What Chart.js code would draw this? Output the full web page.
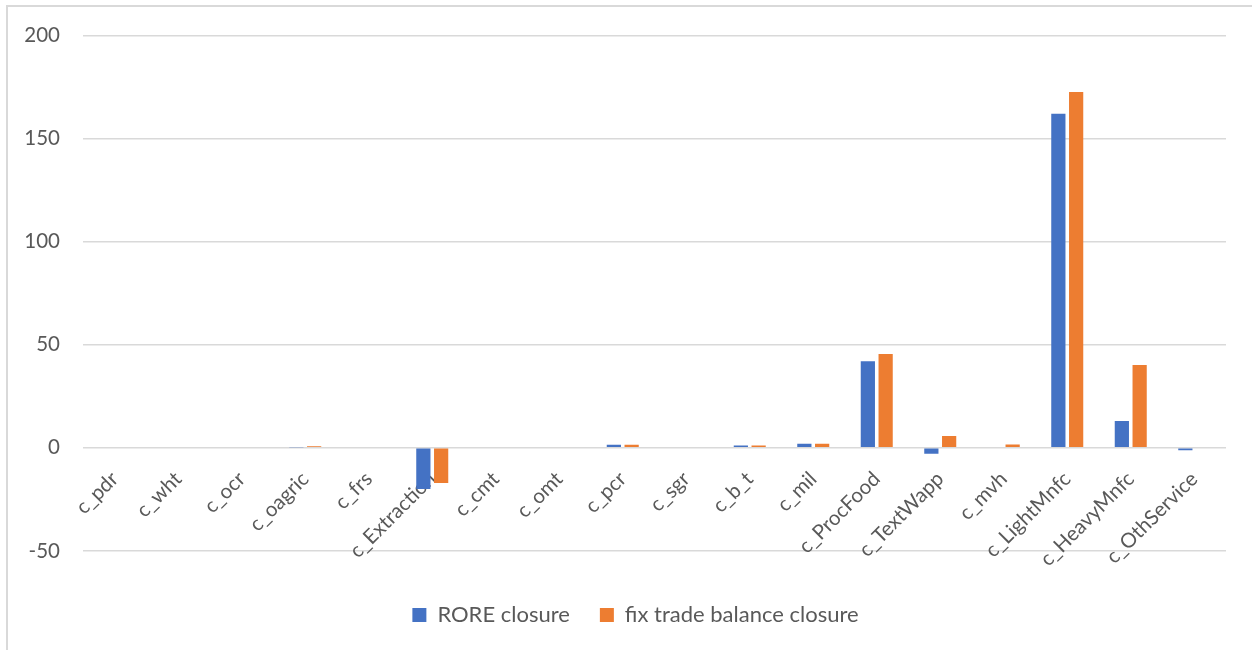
<!DOCTYPE html>
<html>
<head>
<meta charset="utf-8">
<script src="https://cdn.jsdelivr.net/npm/chart.js@4.4.1/dist/chart.umd.min.js"></script>
<style>
  html, body { margin: 0; padding: 0; background: #fff; }
  #wrap { position: relative; width: 1252px; height: 650px; }
  #frame {
    position: absolute; left: 6px; top: 5px; right: -10px; bottom: -10px;
    border-left: 2px solid #d9d9d9; border-top: 2px solid #d9d9d9;
    pointer-events: none;
  }
</style>
</head>
<body>
<div id="wrap">
  <canvas id="chart" width="1252" height="650"></canvas>
  <div id="frame"></div>
</div>
<script>
// Data
const categories = ['c_pdr', 'c_wht', 'c_ocr', 'c_oagric', 'c_frs', 'c_Extraction', 'c_cmt', 'c_omt', 'c_pcr',
  'c_sgr', 'c_b_t', 'c_mil', 'c_ProcFood', 'c_TextWapp', 'c_mvh', 'c_LightMnfc', 'c_HeavyMnfc', 'c_OthService'];
const roreClosure = [0, 0, 0, 0.3, 0, -20, 0, 0, 1.5, 0, 1.1, 2.0, 42, -2.9, 0, 162, 13, -1.2];
const fixTradeClosure = [0, 0, 0, 0.8, 0, -17, 0, 0, 1.5, 0, 1.1, 2.0, 45.5, 5.7, 1.6, 172.5, 40.2, 0];
const yTicks = [-50, 0, 50, 100, 150, 200];

const textColor = '#595959';
const gridColor = '#d9d9d9';

// legend sits a bit right of centre in the original
const legendShift = {
  id: 'legendShift',
  afterLayout(chart) {
    if (chart.legend) chart.legend.left += 45;
  }
};

const ctx = document.getElementById('chart').getContext('2d');
const chart = new Chart(ctx, {
  type: 'bar',
  data: {
    labels: categories,
    datasets: [{
      label: 'RORE closure',
      data: roreClosure,
      backgroundColor: '#4472c4'
    }, {
      label: 'fix trade balance closure',
      data: fixTradeClosure,
      backgroundColor: '#ed7d31'
    }]
  },
  options: {
    responsive: false,
    animation: false,
    categoryPercentage: 0.56,
    barPercentage: 0.8,
    layout: { padding: { left: 0, right: 26, top: 35, bottom: 14 } },
    plugins: {
      tooltip: { enabled: false },
      legend: {
        position: 'bottom',
        title: { display: true, text: ' ', font: { size: 12 }, padding: 4.3 },
        labels: {
          color: textColor,
          font: { family: 'Lato', size: 22 },
          boxWidth: 14,
          boxHeight: 14,
          padding: 30
        }
      }
    },
    scales: {
      x: {
        position: { y: 0 },
        grid: { display: false, drawTicks: false },
        border: { display: false },
        ticks: {
          color: textColor,
          font: { family: 'Lato', size: 20.5 },
          minRotation: 45,
          maxRotation: 45,
          autoSkip: false,
          padding: 19
        }
      },
      y: {
        min: -50,
        max: 200,
        afterBuildTicks: scale => { scale.ticks = yTicks.map(v => ({ value: v })); },
        afterFit: scale => { scale.width = 83; },
        grid: { color: gridColor, lineWidth: 1.5, drawTicks: false },
        border: { display: false },
        ticks: {
          color: textColor,
          font: { family: 'Lato', size: 20.5 },
          padding: 23
        }
      }
    }
  },
  plugins: [legendShift]
});
</script>
</body>
</html>
